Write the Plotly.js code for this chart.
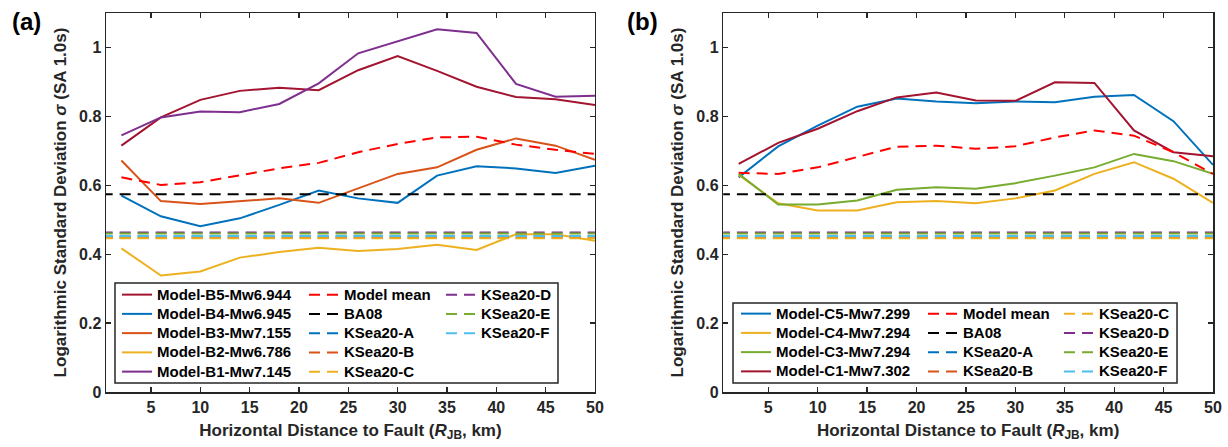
<!DOCTYPE html>
<html><head><meta charset="utf-8">
<script src="https://cdn.plot.ly/plotly-3.0.1.min.js"></script>
<style>html,body{margin:0;padding:0;background:#fff}#chart{width:1228px;height:447px}</style>
</head><body><div id="chart"></div>
<script>
// ---- data ----
const distance = [2,6,10,14,18,22,26,30,34,38,42,46,50];
// panel (a)
const modelB5 = [0.715,0.797,0.848,0.874,0.883,0.876,0.934,0.975,0.932,0.886,0.856,0.850,0.833];
const modelB4 = [0.570,0.510,0.481,0.504,0.543,0.585,0.562,0.549,0.628,0.655,0.649,0.636,0.657];
const modelB3 = [0.672,0.554,0.546,0.554,0.562,0.549,0.591,0.633,0.652,0.703,0.736,0.715,0.674];
const modelB2 = [0.417,0.338,0.350,0.390,0.406,0.419,0.409,0.415,0.427,0.412,0.458,0.458,0.439];
const modelB1 = [0.745,0.797,0.814,0.812,0.836,0.896,0.983,1.019,1.053,1.042,0.894,0.857,0.860];
const meanA   = [0.623,0.601,0.609,0.630,0.649,0.665,0.696,0.720,0.739,0.741,0.718,0.703,0.691];
// panel (b)
const modelC5 = [0.623,0.713,0.773,0.828,0.852,0.843,0.838,0.843,0.841,0.857,0.862,0.786,0.659];
const modelC4 = [0.630,0.548,0.527,0.527,0.551,0.554,0.548,0.562,0.585,0.633,0.667,0.619,0.549];
const modelC3 = [0.633,0.544,0.544,0.556,0.587,0.594,0.590,0.606,0.628,0.652,0.691,0.670,0.633];
const modelC1 = [0.662,0.723,0.764,0.815,0.855,0.869,0.846,0.845,0.899,0.897,0.759,0.696,0.684];
const meanB   = [0.636,0.633,0.652,0.681,0.712,0.715,0.706,0.713,0.739,0.759,0.744,0.696,0.633];
// reference models (constant sigma)
const ba08 = 0.574;
const kseaNames  = ['KSea20-A','KSea20-B','KSea20-C','KSea20-D','KSea20-E','KSea20-F'];
const kseaValues = [0.452,0.447,0.446,0.463,0.460,0.453];
const lineSpan = [0, 50];
const xTicks = [5,10,15,20,25,30,35,40,45,50];

// ---- styling ----
const C = {blue:'#0072BD', orange:'#D95319', yellow:'#EDB120', purple:'#7E2F8E', green:'#77AC30', cyan:'#4DBEEE', dred:'#A2142F'};
const kseaColors = [C.blue, C.orange, C.yellow, C.purple, C.green, C.cyan];
const DASH = '11px,7px';
const FONT = 'Liberation Sans, Arial, Helvetica, sans-serif';
const INK = '#262626';
const nm = s => '<span style="font-size:15px">' + s + '</span>';

const traces = [];
function solid(y, name, color, xa, ya, leg) {
  traces.push({x: distance, y: y, name: nm(name), type:'scatter', mode:'lines',
    line:{color:color, width:2}, xaxis:xa, yaxis:ya, legend:leg});
}
function dashed(x, y, name, color, xa, ya, leg) {
  traces.push({x: x, y: y, name: nm(name), type:'scatter', mode:'lines',
    line:{color:color, width:2, dash:DASH}, xaxis:xa, yaxis:ya, legend:leg});
}
// panel (a)
solid(modelB5, 'Model-B5-Mw6.944', C.dred, 'x','y','legend');
solid(modelB4, 'Model-B4-Mw6.945', C.blue, 'x','y','legend');
solid(modelB3, 'Model-B3-Mw7.155', C.orange, 'x','y','legend');
solid(modelB2, 'Model-B2-Mw6.786', C.yellow, 'x','y','legend');
solid(modelB1, 'Model-B1-Mw7.145', C.purple, 'x','y','legend');
dashed(distance, meanA, 'Model mean', '#FF0000', 'x','y','legend2');
dashed(lineSpan, [ba08, ba08], 'BA08', '#000000', 'x','y','legend2');
kseaNames.forEach((n,i) => dashed(lineSpan, [kseaValues[i], kseaValues[i]], n, kseaColors[i], 'x','y', i < 3 ? 'legend2' : 'legend3'));
// panel (b)
solid(modelC5, 'Model-C5-Mw7.299', C.blue, 'x2','y2','legend4');
solid(modelC4, 'Model-C4-Mw7.294', C.yellow, 'x2','y2','legend4');
solid(modelC3, 'Model-C3-Mw7.294', C.green, 'x2','y2','legend4');
solid(modelC1, 'Model-C1-Mw7.302', C.dred, 'x2','y2','legend4');
dashed(distance, meanB, 'Model mean', '#FF0000', 'x2','y2','legend5');
dashed(lineSpan, [ba08, ba08], 'BA08', '#000000', 'x2','y2','legend5');
kseaNames.forEach((n,i) => dashed(lineSpan, [kseaValues[i], kseaValues[i]], n, kseaColors[i], 'x2','y2', i < 2 ? 'legend5' : 'legend6'));

const W = 1228, H = 447;
const M = {l:106, r:15, t:13, b:55};
const PW = W - M.l - M.r, PH = H - M.t - M.b;
function leg(px, py) {
  return {x:(px - M.l)/PW, y:(H - M.b - py)/PH, xanchor:'left', yanchor:'top',
    bgcolor:'rgba(0,0,0,0)', borderwidth:0, tracegroupgap:0, itemwidth:30,
    font:{family:FONT, size:12.5, color:'#000', weight:'bold'}};
}
function xax(domain, anchor) {
  return {domain:domain, anchor:anchor, range:[0.44, 50], tickvals:xTicks, ticks:'inside', ticklen:5, tickwidth:1.3,
    tickcolor:INK, mirror:'ticks', showline:true, linecolor:INK, linewidth:1.5, showgrid:false, zeroline:false,
    tickfont:{family:FONT, size:16, color:INK, weight:'bold'},
    title:{text:'Horizontal Distance to Fault (<i>R</i><sub>JB</sub>, km)', font:{family:FONT, size:17, color:INK, weight:'bold'}, standoff:9}};
}
function yax(anchor) {
  return {domain:[0,1], anchor:anchor, range:[0, 1.1], dtick:0.2, tick0:0, ticks:'inside', ticklen:5, tickwidth:1.3,
    tickcolor:INK, mirror:'ticks', showline:true, linecolor:INK, linewidth:1.5, showgrid:false, zeroline:false,
    tickfont:{family:FONT, size:16, color:INK, weight:'bold'},
    title:{text:'Logarithmic Standard Deviation <i>σ</i> (SA 1.0s)', font:{family:FONT, size:17, color:INK, weight:'bold'}, standoff:8}};
}
const layout = {
  width:W, height:H, margin:M,
  paper_bgcolor:'#fff', plot_bgcolor:'#fff', showlegend:true,
  font:{family:FONT, color:INK},
  xaxis: xax([0, 0.4417], 'y'), yaxis: yax('x'),
  xaxis2: xax([0.5576, 1], 'y2'), yaxis2: yax('x2'),
  legend: leg(117, 280), legend2: leg(304, 280), legend3: leg(441, 280),
  legend4: leg(736, 299), legend5: leg(923, 299), legend6: leg(1059, 299),
  shapes: [
    {type:'rect', xref:'paper', yref:'paper', x0:0.00813, x1:0.4083, y0:0.02375, y1:0.2876, line:{color:INK, width:1.5}, fillcolor:'#fff', layer:'below'},
    {type:'rect', xref:'paper', yref:'paper', x0:0.5664, x1:0.9675, y0:0.02375, y1:0.2348, line:{color:INK, width:1.5}, fillcolor:'#fff', layer:'below'}
  ],
  annotations: [
    {text:'(a)', xref:'paper', yref:'paper', x:-0.0714, y:0.9776, xanchor:'center', yanchor:'middle', showarrow:false, font:{family:FONT, size:24, color:'#000', weight:'bold'}},
    {text:'(b)', xref:'paper', yref:'paper', x:0.4842, y:0.9776, xanchor:'center', yanchor:'middle', showarrow:false, font:{family:FONT, size:24, color:'#000', weight:'bold'}}
  ]
};
Plotly.newPlot('chart', traces, layout, {staticPlot:true, displayModeBar:false});
</script>
</body></html>
